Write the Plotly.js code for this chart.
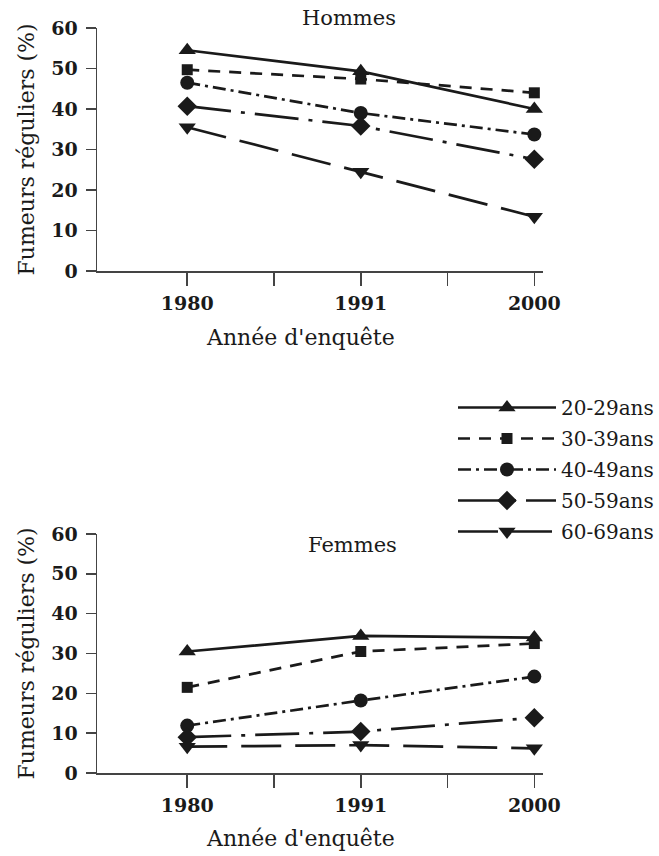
<!DOCTYPE html>
<html>
<head>
<meta charset="utf-8">
<script src="https://cdn.plot.ly/plotly-3.0.1.min.js"></script>
<style>html,body{margin:0;padding:0;background:#fff;}#chart{width:659px;height:856px;}</style>
</head>
<body>
<div id="chart"></div>
<script>
// ---- data ----
var years = ['1980', '1991', '2000'];
var ageGroups = ['20-29ans', '30-39ans', '40-49ans', '50-59ans', '60-69ans'];
var hommes2029 = [54.5, 49.3, 40.0];
var hommes3039 = [49.7, 47.4, 44.0];
var hommes4049 = [46.5, 39.0, 33.7];
var hommes5059 = [40.7, 35.8, 27.6];
var hommes6069 = [35.5, 24.5, 13.4];
var femmes2029 = [30.5, 34.4, 34.0];
var femmes3039 = [21.5, 30.5, 32.5];
var femmes4049 = [11.9, 18.2, 24.2];
var femmes5059 = [9.0, 10.4, 13.9];
var femmes6069 = [6.6, 7.0, 6.2];
var yTicks = [0, 10, 20, 30, 40, 50, 60];
var panelTitles = ['Hommes', 'Femmes'];
var yTitle = 'Fumeurs réguliers (%)';
var xTitle = "Année d'enquête";

// ---- styles ----
var W = 659, H = 856;
var ML = 97, MR = W - 543;
var FONT = 'DejaVu Serif, serif';
var INK = '#1a1a1a';
var symbols = ['triangle-up', 'square', 'circle', 'diamond', 'triangle-down'];
var sizes = [15, 11, 14, 15, 15];
var dashes = ['solid', '12px,9px', '13px,5px,3px,5px', '44px,10px,4px,10px', '40px,14px'];

var hommes = [hommes2029, hommes3039, hommes4049, hommes5059, hommes6069];
var femmes = [femmes2029, femmes3039, femmes4049, femmes5059, femmes6069];
var xIdx = years.map(function (_, i) { return i; });
var minorVals = years.slice(0, -1).map(function (_, i) { return i + 0.5; });

function px2x(px) { return (px - ML) / (W - ML - MR); }
function px2y(py) { return 1 - py / H; }

var traces = [];
function addPanel(series, xa, ya, showLegend) {
  series.forEach(function (vals, k) {
    traces.push({
      type: 'scatter', mode: 'lines+markers',
      x: xIdx, y: vals, xaxis: xa, yaxis: ya,
      name: ageGroups[k], legendgroup: ageGroups[k], showlegend: showLegend,
      line: { color: INK, width: 2.7, dash: dashes[k] },
      marker: { symbol: symbols[k], size: sizes[k], color: INK, line: { width: 0 } },
      cliponaxis: false
    });
  });
}
addPanel(hommes, 'x', 'y', true);
addPanel(femmes, 'x2', 'y2', false);

var tickFont = { family: FONT, size: 19, color: INK, weight: 'bold' };

function xAxis(anchor) {
  return {
    anchor: anchor, domain: [0, 1], range: [-0.52, 2.05], type: 'linear',
    tickmode: 'array', tickvals: xIdx, ticktext: years,
    ticks: 'outside', ticklen: 13, tickwidth: 1.5, tickcolor: '#444',
    minor: { tickmode: 'array', tickvals: minorVals, ticks: 'outside', ticklen: 13, tickwidth: 1.5, tickcolor: '#444', showgrid: false },
    showline: true, linecolor: '#444', linewidth: 1.5,
    showgrid: false, zeroline: false, fixedrange: true,
    tickfont: tickFont,
    ticklabelstandoff: 2
  };
}
function yAxis(anchor, top, bottom) {
  return {
    anchor: anchor, domain: [px2y(bottom), px2y(top)], range: [0, 60],
    tickmode: 'array', tickvals: yTicks,
    ticks: 'outside', ticklen: 10, tickwidth: 1.5, tickcolor: '#444',
    showline: true, linecolor: '#444', linewidth: 1.5,
    showgrid: false, zeroline: false, fixedrange: true,
    tickfont: tickFont,
    ticklabelstandoff: 4,
    title: { text: yTitle, font: { family: FONT, size: 22, color: INK }, standoff: 10 }
  };
}

var layout = {
  width: W, height: H,
  margin: { l: ML, r: MR, t: 0, b: 0 },
  paper_bgcolor: '#fff', plot_bgcolor: '#fff',
  showlegend: true,
  xaxis: xAxis('y'),
  yaxis: yAxis('x', 28, 271),
  xaxis2: xAxis('y2'),
  yaxis2: yAxis('x2', 534, 773),
  legend: {
    x: px2x(453), xanchor: 'left', y: px2y(388), yanchor: 'top',
    traceorder: 'grouped', tracegroupgap: 2, itemwidth: 98,
    font: { family: FONT, size: 20, color: INK },
    bgcolor: 'rgba(0,0,0,0)', borderwidth: 0
  },
  annotations: [
    { text: panelTitles[0], xref: 'paper', yref: 'paper', x: px2x(349), y: px2y(18), showarrow: false,
      font: { family: FONT, size: 21, color: INK }, xanchor: 'center', yanchor: 'middle' },
    { text: panelTitles[1], xref: 'paper', yref: 'paper', x: px2x(352), y: px2y(545), showarrow: false,
      font: { family: FONT, size: 21, color: INK }, xanchor: 'center', yanchor: 'middle' },
    { text: xTitle, xref: 'paper', yref: 'paper', x: px2x(300), y: px2y(338), showarrow: false,
      font: { family: FONT, size: 22, color: INK }, xanchor: 'center', yanchor: 'middle' },
    { text: xTitle, xref: 'paper', yref: 'paper', x: px2x(300), y: px2y(838), showarrow: false,
      font: { family: FONT, size: 22, color: INK }, xanchor: 'center', yanchor: 'middle' }
  ]
};

Plotly.newPlot('chart', traces, layout, { staticPlot: true, displayModeBar: false });
</script>
</body>
</html>
